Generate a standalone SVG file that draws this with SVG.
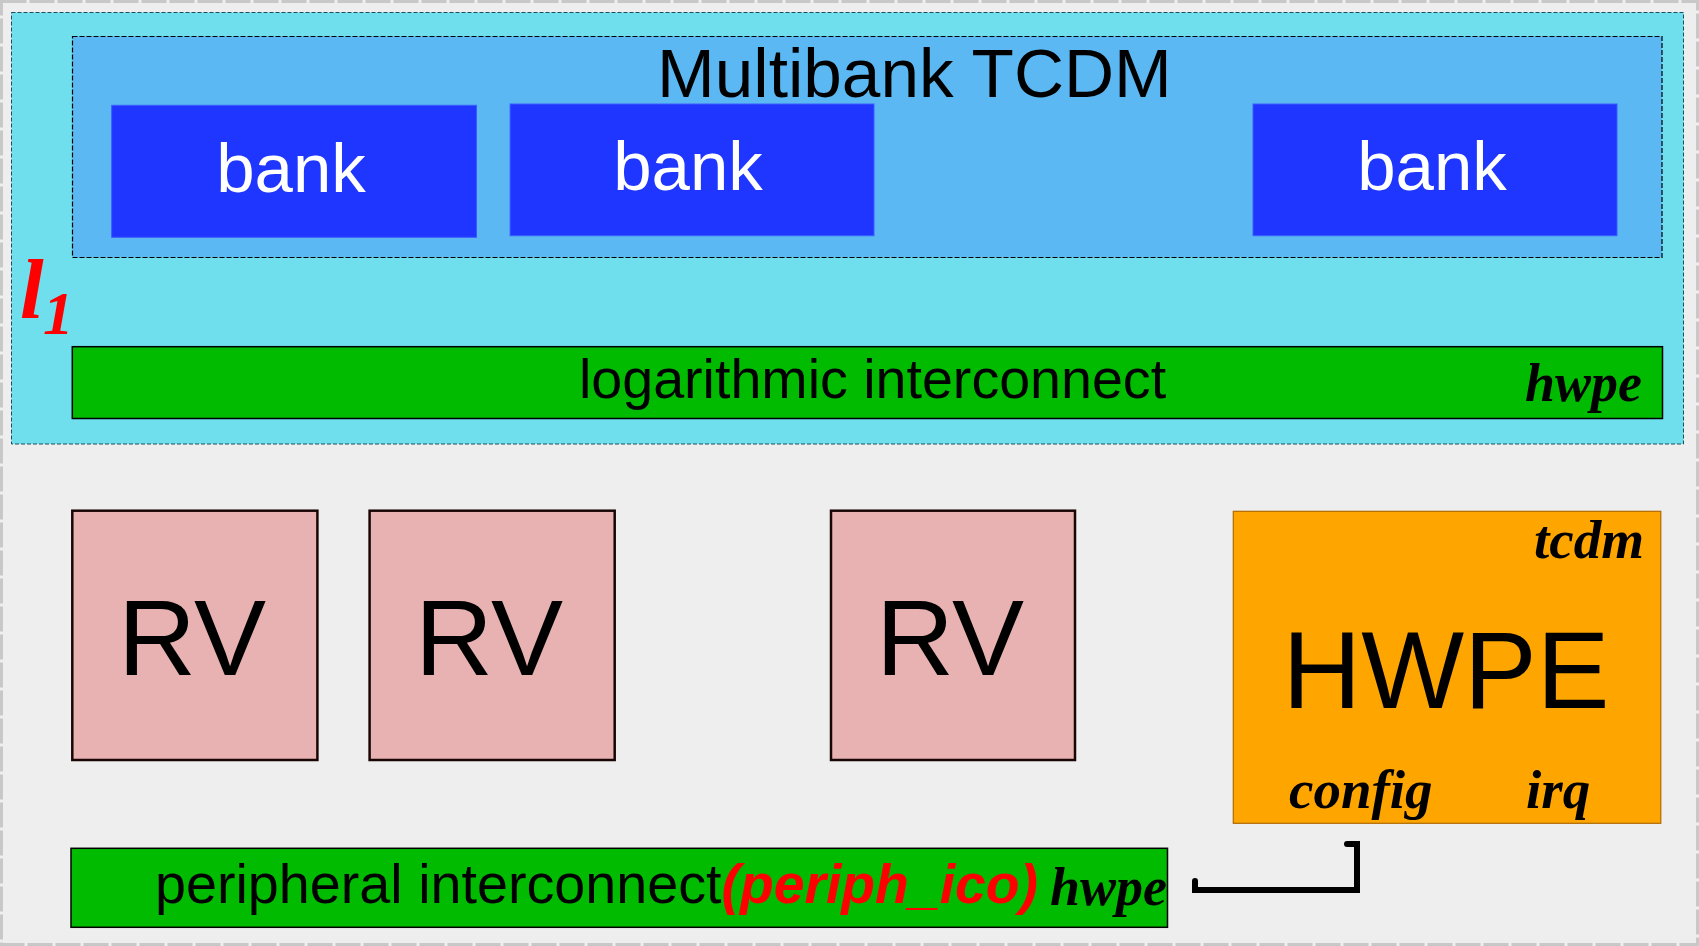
<svg xmlns="http://www.w3.org/2000/svg" width="1699" height="946" viewBox="0 0 1699 946">
  <style>
    .sans { font-family: "Liberation Sans", Arial, sans-serif; }
    .serifbi { font-family: "Liberation Serif", "Times New Roman", serif; font-weight: bold; font-style: italic; }
    .bank { fill: #1e36ff; stroke: #3a5cff; stroke-width: 1; }
    .banktxt { fill: #ffffff; font-size: 69px; text-anchor: middle; }
    .bus { fill: #00bb00; stroke: #000000; stroke-width: 1.5; }
    .rv { fill: #e8b2b2; stroke: #1a0505; stroke-width: 2.5; }
    .rvtxt { fill: #000000; font-size: 108px; text-anchor: middle; }
  </style>
  <rect x="0" y="0" width="1699" height="946" fill="#eeeeee"/>
  <rect x="1.5" y="1.5" width="1696" height="943" fill="none" stroke="#c8c8c8" stroke-width="3" stroke-dasharray="25 3"/>

  <g id="l1-cluster">
    <rect x="11.5" y="12.5" width="1672" height="431.5" fill="#6fdeed" stroke="#1b4f5f" stroke-width="1" stroke-dasharray="4 2"/>
    <text class="serifbi" x="20" y="318" font-size="85" fill="#ff0000">l</text>
    <text class="serifbi" x="43" y="334" font-size="61" fill="#ff0000">1</text>
  </g>

  <g id="tcdm">
    <rect x="72.5" y="36.5" width="1589.5" height="221" fill="#5bb8f2" stroke="#000000" stroke-width="1.2" stroke-dasharray="5 2"/>
    <text class="sans" x="657" y="97" font-size="69.3" fill="#000000">Multibank TCDM</text>
  </g>

  <g id="bank1">
    <rect class="bank" x="111.7" y="105.3" width="364.8" height="132"/>
    <text class="sans banktxt" x="291" y="192">bank</text>
  </g>
  <g id="bank2">
    <rect class="bank" x="510.1" y="104" width="363.9" height="131.7"/>
    <text class="sans banktxt" x="688" y="190">bank</text>
  </g>
  <g id="bank3">
    <rect class="bank" x="1253" y="104" width="364" height="131.7"/>
    <text class="sans banktxt" x="1432" y="190">bank</text>
  </g>

  <g id="log-interconnect">
    <rect class="bus" x="72.3" y="346.7" width="1590.2" height="71.8"/>
    <text class="sans" x="579" y="398" font-size="55.6" fill="#000000">logarithmic interconnect</text>
    <text class="serifbi" x="1525" y="401" font-size="54" fill="#000000">hwpe</text>
  </g>

  <g id="rv1">
    <rect class="rv" x="72.3" y="510.7" width="245.1" height="249.3"/>
    <text class="sans rvtxt" x="192" y="675">RV</text>
  </g>
  <g id="rv2">
    <rect class="rv" x="369.6" y="510.7" width="245.1" height="249.3"/>
    <text class="sans rvtxt" x="489" y="675">RV</text>
  </g>
  <g id="rv3">
    <rect class="rv" x="831" y="510.7" width="244" height="249.3"/>
    <text class="sans rvtxt" x="950" y="675">RV</text>
  </g>

  <g id="hwpe">
    <rect x="1233.3" y="511.3" width="427.5" height="312" fill="#ffa500" stroke="#b06a00" stroke-width="1.2"/>
    <text class="sans" x="1446" y="708" font-size="109" text-anchor="middle" fill="#000000">HWPE</text>
    <text class="serifbi" x="1534" y="558" font-size="55" fill="#000000">tcdm</text>
    <text class="serifbi" x="1289" y="808" font-size="55" fill="#000000">config</text>
    <text class="serifbi" x="1526" y="808" font-size="55" fill="#000000">irq</text>
  </g>

  <g id="periph-interconnect">
    <rect class="bus" x="71" y="848.3" width="1096.5" height="79"/>
    <text class="sans" x="155" y="903" font-size="55.7" fill="#000000">peripheral interconnect<tspan fill="#ff0000" font-weight="bold" font-style="italic" font-size="55.3">(periph_ico)</tspan></text>
    <text class="serifbi" x="1050" y="905" font-size="54" fill="#000000">hwpe</text>
  </g>

  <g id="connectors">
    <path d="M1195 881 L1195 890 L1357 890 L1357 844 L1347 844" fill="none" stroke="#000000" stroke-width="6" stroke-linecap="round" stroke-linejoin="miter"/>
  </g>
</svg>
